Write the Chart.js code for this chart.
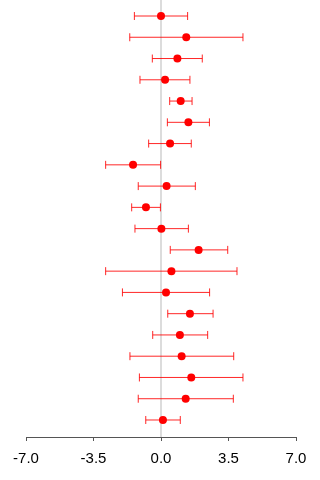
<!DOCTYPE html>
<html>
<head>
<meta charset="utf-8">
<script src="https://cdn.jsdelivr.net/npm/chart.js@4/dist/chart.umd.min.js"></script>
<style>
  html, body { margin: 0; padding: 0; background: #fff; }
  #wrap { width: 320px; height: 480px; }
</style>
</head>
<body>
<div id="wrap"><canvas id="c" width="320" height="480"></canvas></div>
<script>
// Study rows, top to bottom
const rows = [1, 2, 3, 4, 5, 6, 7, 8, 9, 10, 11, 12, 13, 14, 15, 16, 17, 18, 19, 20];
// Point estimates
const estimates = [0.00, 1.31, 0.85, 0.21, 1.02, 1.42, 0.47, -1.45, 0.29, -0.78,
                   0.02, 1.95, 0.54, 0.26, 1.50, 0.98, 1.07, 1.57, 1.28, 0.10];
// Lower interval bounds
const lower = [-1.38, -1.62, -0.45, -1.09, 0.45, 0.33, -0.64, -2.87, -1.18, -1.52,
               -1.35, 0.48, -2.87, -2.00, 0.35, -0.43, -1.61, -1.12, -1.18, -0.79];
// Upper interval bounds
const upper = [1.38, 4.25, 2.14, 1.50, 1.61, 2.51, 1.57, -0.02, 1.78, -0.03,
               1.42, 3.46, 3.94, 2.52, 2.70, 2.42, 3.77, 4.25, 3.75, 1.00];
// Axis ticks
const xTicks = [-7.0, -3.5, 0.0, 3.5, 7.0];

// Reference line at zero plus horizontal interval whiskers with end caps
const intervalPlugin = {
  id: 'intervals',
  beforeDatasetsDraw(chart) {
    const { ctx, chartArea, scales } = chart;
    const xs = scales.x, ys = scales.y;
    ctx.save();
    const x0 = xs.getPixelForValue(0);
    ctx.strokeStyle = '#dcdcdc';
    ctx.lineWidth = 2;
    ctx.beginPath();
    ctx.moveTo(x0, chartArea.top);
    ctx.lineTo(x0, chartArea.bottom);
    ctx.stroke();

    ctx.strokeStyle = 'rgba(255,0,0,0.85)';
    ctx.lineWidth = 1;
    const cap = 4;
    rows.forEach((r, i) => {
      const y = ys.getPixelForValue(r);
      const xl = xs.getPixelForValue(lower[i]);
      const xu = xs.getPixelForValue(upper[i]);
      ctx.beginPath();
      ctx.moveTo(xl, y); ctx.lineTo(xu, y);
      ctx.moveTo(xl, y - cap); ctx.lineTo(xl, y + cap);
      ctx.moveTo(xu, y - cap); ctx.lineTo(xu, y + cap);
      ctx.stroke();
    });
    ctx.restore();
  }
};

new Chart(document.getElementById('c'), {
  type: 'scatter',
  data: {
    datasets: [{
      data: rows.map((r, i) => ({ x: estimates[i], y: r })),
      backgroundColor: '#ff0000',
      borderColor: '#ff0000',
      borderWidth: 0,
      pointRadius: 4,
      pointHoverRadius: 4,
      clip: false
    }]
  },
  options: {
    responsive: false,
    animation: false,
    events: [],
    layout: { autoPadding: false, padding: { left: 26, right: 24, top: 0, bottom: 3 } },
    plugins: { legend: { display: false }, tooltip: { enabled: false } },
    scales: {
      x: {
        type: 'linear',
        min: -7, max: 7,
        afterBuildTicks(axis) { axis.ticks = xTicks.map(v => ({ value: v })); },
        grid: { display: true, drawOnChartArea: false, drawTicks: true, tickLength: 4, color: '#555' },
        border: { display: true, color: '#555', width: 1 },
        ticks: {
          padding: 9,
          color: '#000',
          font: { family: 'Liberation Sans, Arial, sans-serif', size: 15 },
          maxRotation: 0,
          callback: v => Number(v).toFixed(1)
        }
      },
      y: {
        type: 'linear',
        reverse: true,
        min: 0.2475, max: 20.8,
        display: false
      }
    }
  },
  plugins: [intervalPlugin]
});
</script>
</body>
</html>
